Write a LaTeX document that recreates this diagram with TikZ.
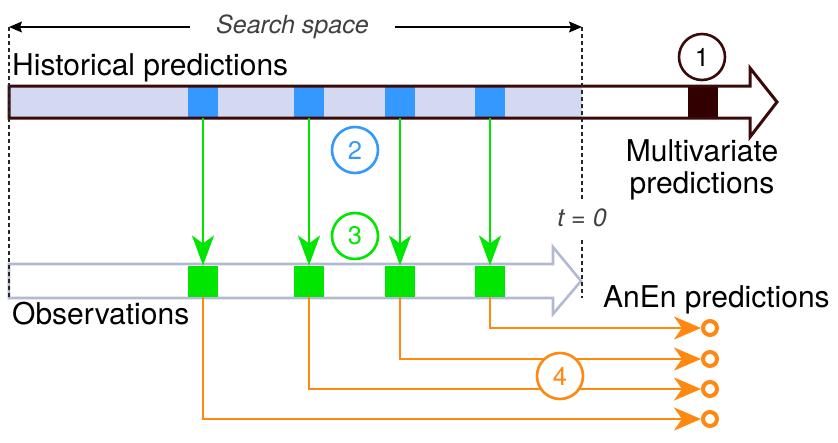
\documentclass[tikz,border=0pt]{standalone}
\usepackage{fontspec}
\setmainfont{TeX Gyre Heros}
\usetikzlibrary{arrows.meta}
\definecolor{histfill}{HTML}{D4D9F2}
\definecolor{histline}{HTML}{3A0A0A}
\definecolor{darksq}{HTML}{330000}
\definecolor{blueq}{HTML}{3399FF}
\definecolor{greenq}{HTML}{00E600}
\definecolor{obsline}{HTML}{B3B9D1}
\definecolor{orangeq}{HTML}{FF8811}
\definecolor{txtgray}{HTML}{404040}
\begin{document}
\begin{tikzpicture}[x=1pt,y=-1pt,
  lbl/.style={font=\fontsize{30}{33}\selectfont, inner sep=0pt},
  ital/.style={font=\fontsize{25}{30}\selectfont\itshape, text=txtgray, inner sep=0pt},
  num/.style={circle, minimum size=46pt, line width=2.6pt, fill=white, font=\fontsize{25.5}{30}\selectfont, inner sep=0pt},
  sq/.style={minimum width=30pt, minimum height=32pt, inner sep=0pt, outer sep=0pt},
  gsq/.style={minimum width=30pt, minimum height=31pt, inner sep=0pt, outer sep=0pt, fill=greenq},
  endc/.style={circle, minimum size=14pt, inner sep=0pt, line width=4pt, draw=orangeq, fill=white},
  garrow/.style={draw=greenq, line width=2.7pt, -{Stealth[length=30pt,width=22pt,inset=8pt]}},
  orarrow/.style={draw=orangeq, line width=2.7pt, -{Stealth[length=27pt,width=23pt,inset=8pt]}},
  sarrow/.style={draw=black, line width=1.3pt, -{Stealth[length=13pt,width=11pt,inset=2pt]}},
  dline/.style={draw=black!85, line width=1.1pt, dash pattern=on 4pt off 3pt},
]
\useasboundingbox (0,0) rectangle (838,442);

% coordinates
\coordinate (ssL) at (9,27);
\coordinate (ssR) at (582,27);
\coordinate (lBot) at (9,298);
\coordinate (rMid1) at (582,200);
\coordinate (rMid2) at (582,240);
\coordinate (rBot) at (582,298);

% historical predictions band
\fill[histfill] (9,86) rectangle (582,118);
\node[sq, fill=blueq] (b1) at (203,102) {};
\node[sq, fill=blueq] (b2) at (309,102) {};
\node[sq, fill=blueq] (b3) at (400,102) {};
\node[sq, fill=blueq] (b4) at (490,102) {};
\node[sq, fill=darksq] (m1) at (703,102) {};
\draw[histline, line width=3pt] (9,86) -- (750,86) -- (750,68) -- (777,102) -- (750,137) -- (750,118) -- (9,118) -- cycle;

% observations band
\draw[obsline, line width=2.6pt] (9,264) -- (553,264) -- (553,247) -- (581,281) -- (553,314) -- (553,298) -- (9,298) -- cycle;
\node[gsq] (g1) at (203,281) {};
\node[gsq] (g2) at (309,281) {};
\node[gsq] (g3) at (400,281) {};
\node[gsq] (g4) at (490,281) {};

% search space
\node[ital, inner xsep=26pt, anchor=base west] (ss) at (190,33) {Search space};
\draw[sarrow] (ss.west |- ssL) -- (ssL);
\draw[sarrow] (ss.east |- ssR) -- (ssR);
\draw[dline] (ssL) -- (lBot);
\draw[dline] (ssR) -- (rMid1);
\draw[dline] (rMid2) -- (rBot);
\node[ital, anchor=base] (t0) at (582,226) {t = 0};

% labels
\node[lbl, anchor=base west] (hp) at (12,75) {Historical predictions};
\node[lbl, anchor=base west] (obs) at (12,324) {Observations};
\node[lbl, anchor=base west] (anen) at (603,307) {AnEn predictions};
\node[lbl, anchor=north, align=center] (mv) at (702,139) {Multivariate\\[-1pt]predictions};

% numbered circles
\node[num, draw=histline, text=black] (c1) at (702,57) {1};
\node[num, draw=blueq, text=blueq] (c2) at (355,150) {2};
\node[num, draw=greenq, text=greenq] (c3) at (355,236) {3};

% green arrows
\draw[garrow] (b1.south) -- (g1.north);
\draw[garrow] (b2.south) -- (g2.north);
\draw[garrow] (b3.south) -- (g3.north);
\draw[garrow] (b4.south) -- (g4.north);

% AnEn outputs
\node[endc] (o1) at (710,328) {};
\node[endc] (o2) at (710,359) {};
\node[endc] (o3) at (710,389) {};
\node[endc] (o4) at (710,419) {};
\draw[orarrow] (g4.south) |- (o1.west);
\draw[orarrow] (g3.south) |- (o2.west);
\draw[orarrow] (g2.south) |- (o3.west);
\draw[orarrow] (g1.south) |- (o4.west);
\node[num, draw=orangeq, text=orangeq] (c4) at (560,376) {4};
\end{tikzpicture}
\end{document}
